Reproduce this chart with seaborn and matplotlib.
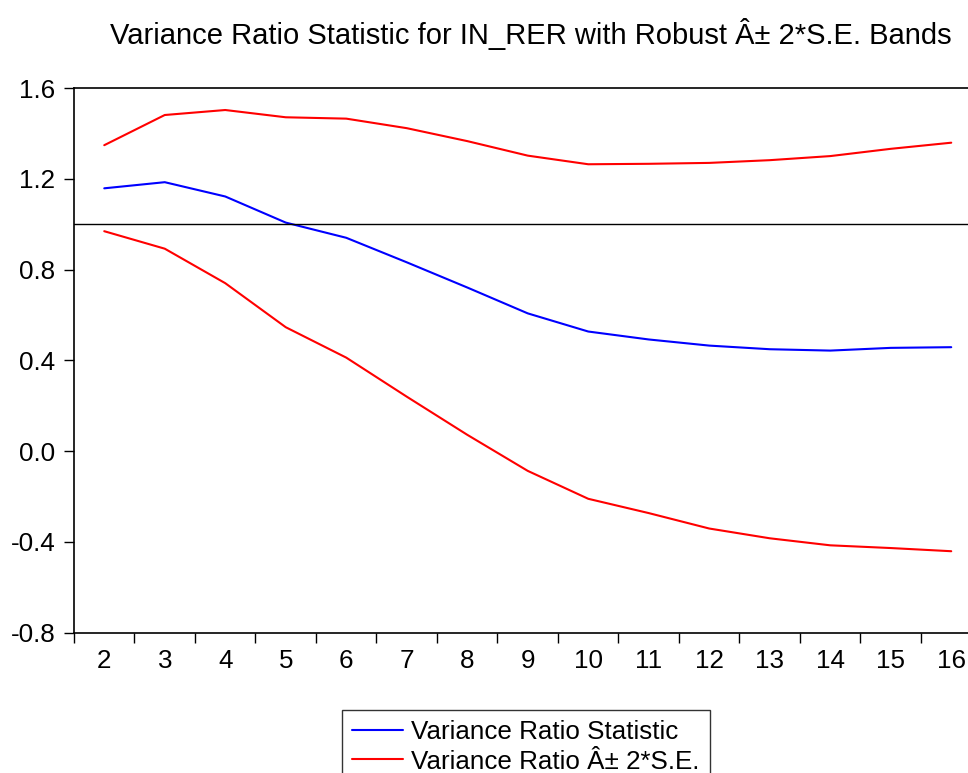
import numpy as np
import pandas as pd
import seaborn as sns
import matplotlib.pyplot as plt
from matplotlib.lines import Line2D

# Data
periods = list(range(2, 17))
vr_stat = [1.158, 1.185, 1.122, 1.007, 0.940, 0.832, 0.721, 0.607, 0.527,
           0.492, 0.465, 0.449, 0.443, 0.455, 0.458]
vr_upper = [1.348, 1.481, 1.503, 1.471, 1.465, 1.423, 1.366, 1.302, 1.264,
            1.266, 1.270, 1.282, 1.300, 1.332, 1.359]
vr_lower = [0.969, 0.892, 0.740, 0.546, 0.412, 0.240, 0.072, -0.087, -0.210,
            -0.273, -0.341, -0.384, -0.415, -0.427, -0.441]
yticks = [-0.8, -0.4, 0.0, 0.4, 0.8, 1.2, 1.6]

df = pd.DataFrame({'period': periods, 'stat': vr_stat,
                   'upper': vr_upper, 'lower': vr_lower})

sns.set_style('ticks')
plt.rcParams['font.family'] = ['Liberation Sans', 'DejaVu Sans']
plt.rcParams['text.color'] = 'black'
plt.rcParams['xtick.color'] = 'black'
plt.rcParams['ytick.color'] = 'black'

fig = plt.figure(figsize=(9.68, 7.73), dpi=100)
W, H = 968, 773
# axes spans x 1.5..16.5 -> px 74..981.5 (right edge runs past the image)
ax = fig.add_axes([74 / W, 1 - 632.7 / H, 907.5 / W, (632.7 - 88) / H])

sns.lineplot(data=df, x='period', y='stat', color='#0000ff', lw=1.5, ax=ax)
sns.lineplot(data=df, x='period', y='upper', color='#ff0000', lw=1.5, ax=ax)
sns.lineplot(data=df, x='period', y='lower', color='#ff0000', lw=1.5, ax=ax)
ax.axhline(1.0, color='black', lw=1.0)

ax.set_xlim(1.5, 16.5)
ax.set_ylim(-0.8, 1.6)
ax.set_xlabel('')
ax.set_ylabel('')

ax.set_xticks(periods)
ax.set_xticklabels([str(p) for p in periods])
ax.set_xticks(np.arange(1.5, 17, 1.0), minor=True)
ax.tick_params(axis='x', which='major', length=0, labelsize=18.7, pad=12)
ax.tick_params(axis='x', which='minor', length=7.5, width=1.0, direction='out')
ax.set_yticks(yticks)
ax.set_yticklabels([f'{v:.1f}' for v in yticks])
ax.tick_params(axis='y', length=7.5, width=1.0, labelsize=18.7, pad=6)

for s in ['left', 'bottom', 'top']:
    ax.spines[s].set_visible(True)
    ax.spines[s].set_linewidth(1.2)
    ax.spines[s].set_color('black')
ax.spines['right'].set_visible(False)

fig.text(531 / W, 1 - 34 / H,
         'Variance Ratio Statistic for IN_RER with Robust Â± 2*S.E. Bands',
         ha='center', va='center', fontsize=21)

handles = [Line2D([], [], color='#0000ff', lw=1.5),
           Line2D([], [], color='#ff0000', lw=1.5)]
leg = fig.legend(handles, ['Variance Ratio Statistic', 'Variance Ratio Â± 2*S.E.'],
                 loc='upper left', bbox_to_anchor=(342 / W, 1 - 710 / H),
                 fontsize=18.7, frameon=True, fancybox=False, handlelength=1.95,
                 handletextpad=0.32, labelspacing=0.2, borderpad=0.4,
                 borderaxespad=0)
leg.get_frame().set_edgecolor('black')
leg.get_frame().set_linewidth(1.0)

fig.savefig('out.png', dpi=100)
